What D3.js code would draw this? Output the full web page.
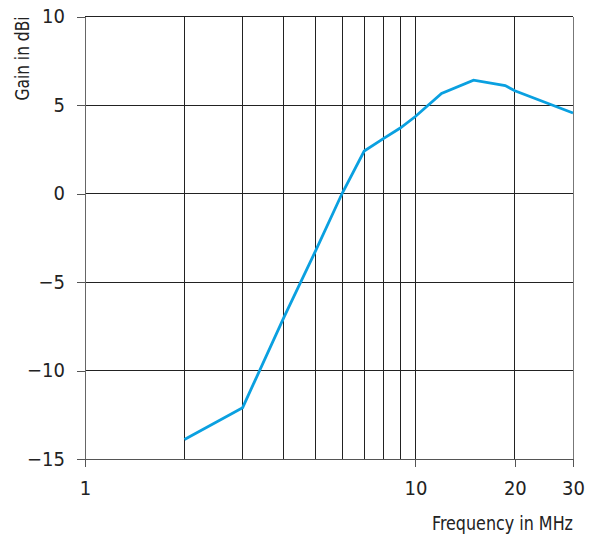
<!DOCTYPE html>
<html>
<head>
<meta charset="utf-8">
<script src="https://cdn.jsdelivr.net/npm/d3@7"></script>
<style>
  body { margin: 0; background: #fff; }
  svg text { font-family: "Liberation Sans Narrow", "DejaVu Sans Condensed", "Roboto Condensed", sans-serif; fill: #222; }
</style>
</head>
<body>
<svg id="chart" width="590" height="536"></svg>
<script>
const freqMHz = [2, 3, 4, 5, 6, 7, 8, 9, 10, 12, 15, 18.7, 20, 30];
const gainDBi = [-13.9, -12.1, -7.0, -3.2, 0.0, 2.4, 3.1, 3.7, 4.35, 5.65, 6.4, 6.1, 5.8, 4.55];
const xTickValues = [1, 10, 20, 30];
const xTickLabels = ["1", "10", "20", "30"];
const xGridValues = [2, 3, 4, 5, 6, 7, 8, 9, 10, 20, 30];
const yTickValues = [-15, -10, -5, 0, 5, 10];
const yTickLabels = ["\u221215", "\u221210", "\u22125", "0", "5", "10"];
const xTitle = "Frequency in MHz";
const yTitle = "Gain in dBi";

const svg = d3.select("#chart");
const mLeft = 85, mRight = 573, mTop = 16.5, mBottom = 459;
const x = d3.scaleLog().domain([1, 30]).range([mLeft, mRight]);
const y = d3.scaleLinear().domain([-15, 10]).range([mBottom, mTop]);

const grid = svg.append("g").attr("shape-rendering", "crispEdges");
grid.selectAll("line.v").data(xGridValues).join("line")
  .attr("x1", d => x(d)).attr("x2", d => x(d))
  .attr("y1", mTop).attr("y2", mBottom)
  .attr("stroke", d => d === 30 ? "#777" : "#222").attr("stroke-width", 1);
grid.selectAll("line.h").data(yTickValues.filter(v => v > -15)).join("line")
  .attr("x1", mLeft).attr("x2", mRight)
  .attr("y1", d => y(d)).attr("y2", d => y(d))
  .attr("stroke", "#222").attr("stroke-width", 1);

// Axes
const yAxis = d3.axisLeft(y).tickValues(yTickValues)
  .tickFormat((d, i) => yTickLabels[i]).tickSize(8).tickPadding(12);
const gy = svg.append("g").attr("transform", `translate(${mLeft},0)`).call(yAxis);
gy.select(".domain").attr("stroke", "#666");
gy.selectAll(".tick line").attr("stroke", "#555");
gy.selectAll(".tick text").attr("font-size", 20);

const xAxis = d3.axisBottom(x).tickValues(xTickValues)
  .tickFormat((d, i) => xTickLabels[i]).tickSize(8).tickPadding(14);
const gx = svg.append("g").attr("transform", `translate(0,${mBottom})`).call(xAxis);
gx.select(".domain").attr("stroke", "#555").attr("d", `M${mLeft - 8},0.5H${mRight}`);
gx.selectAll(".tick line").attr("stroke", "#555");
gx.selectAll(".tick text").attr("font-size", 20);
svg.selectAll(".domain").attr("shape-rendering", "crispEdges");
svg.selectAll(".tick line").attr("shape-rendering", "crispEdges");
svg.selectAll("g").attr("font-family", null);

// Line
const line = d3.line().x((d, i) => x(freqMHz[i])).y(d => y(d));
svg.append("path").datum(gainDBi)
  .attr("d", line)
  .attr("fill", "none")
  .attr("stroke", "#0aa0e0")
  .attr("stroke-width", 2.8)
  .attr("stroke-linejoin", "miter");

// Titles
svg.append("text").attr("x", mRight).attr("y", 530)
  .attr("text-anchor", "end").attr("font-size", 20)
  .attr("textLength", 141).attr("lengthAdjust", "spacingAndGlyphs").text(xTitle);
svg.append("text").attr("transform", `translate(29,${mTop}) rotate(-90)`)
  .attr("text-anchor", "end").attr("font-size", 20)
  .attr("textLength", 84).attr("lengthAdjust", "spacingAndGlyphs").text(yTitle);
</script>
</body>
</html>
